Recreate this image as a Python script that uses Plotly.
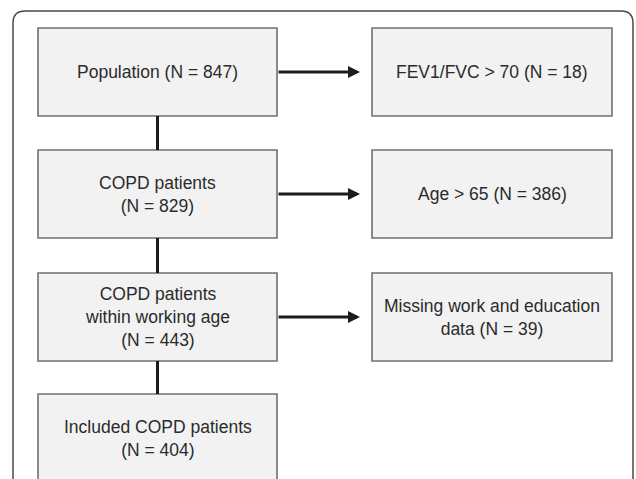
import plotly.graph_objects as go

# ---- data ----
stage_labels = ["Population", "COPD patients", "COPD patients<br>within working age", "Included COPD patients"]
stage_n = [847, 829, 443, 404]
stage_sep = [" ", "<br>", "<br>", "<br>"]
exclusion_labels = ["FEV1/FVC > 70", "Age > 65", "Missing work and education<br>data"]
exclusion_n = [18, 386, 39]
exclusion_sep = [" ", " ", " "]

# ---- layout geometry (pixels) ----
W, H = 636, 479
row_top = [28, 150, 273, 394]
box_h = 88
left_x0, left_x1 = 38, 277
right_x0, right_x1 = 372, 612
arrow_tip = 360
font = dict(family="Liberation Sans, Arial, sans-serif", size=17.5, color="#2b2b2b")
box_line = dict(color="#707070", width=1.6)
box_fill = "#f2f2f2"
conn_color = "#1c1c1c"

fig = go.Figure()
shapes = []
annotations = []

# outer rounded frame
r = 12
fx0, fy0, fx1 = 13, 11, 633
shapes.append(dict(type="path", xref="x", yref="y",
                   path=f"M {fx0},{H+5} L {fx0},{fy0+r} Q {fx0},{fy0} {fx0+r},{fy0} L {fx1-r},{fy0} Q {fx1},{fy0} {fx1},{fy0+r} L {fx1},{H+5}",
                   line=dict(color="#4a4a4a", width=1.5)))

cx_left = (left_x0 + left_x1) / 2
cx_right = (right_x0 + right_x1) / 2

for i, (lab, n, sep) in enumerate(zip(stage_labels, stage_n, stage_sep)):
    y0 = row_top[i]
    y1 = y0 + box_h
    shapes.append(dict(type="rect", xref="x", yref="y", x0=left_x0, x1=left_x1, y0=y0, y1=y1,
                       line=box_line, fillcolor=box_fill, layer="below"))
    annotations.append(dict(x=cx_left, y=(y0 + y1) / 2, xref="x", yref="y",
                            text=f"{lab}{sep}(N = {n})", showarrow=False, font=font,
                            xanchor="center", yanchor="middle", align="center"))
    if i < len(stage_labels) - 1:
        shapes.append(dict(type="line", xref="x", yref="y", x0=cx_left, x1=cx_left,
                           y0=y1, y1=row_top[i + 1], line=dict(color=conn_color, width=3)))

for i, (lab, n, sep) in enumerate(zip(exclusion_labels, exclusion_n, exclusion_sep)):
    y0 = row_top[i]
    y1 = y0 + box_h
    ym = (y0 + y1) / 2
    shapes.append(dict(type="rect", xref="x", yref="y", x0=right_x0, x1=right_x1, y0=y0, y1=y1,
                       line=box_line, fillcolor=box_fill, layer="below"))
    annotations.append(dict(x=cx_right, y=ym, xref="x", yref="y",
                            text=f"{lab}{sep}(N = {n})", showarrow=False, font=font,
                            xanchor="center", yanchor="middle", align="center"))
    annotations.append(dict(x=arrow_tip, y=ym, xref="x", yref="y", ax=left_x1, ay=ym,
                            axref="x", ayref="y", text="", showarrow=True,
                            arrowhead=2, arrowsize=0.8, arrowwidth=3, arrowcolor=conn_color,
                            standoff=0, startstandoff=0))

fig.update_layout(
    width=W, height=H,
    margin=dict(l=0, r=0, t=0, b=0),
    paper_bgcolor="white", plot_bgcolor="white",
    xaxis=dict(range=[0, W], visible=False, fixedrange=True),
    yaxis=dict(range=[H, 0], visible=False, fixedrange=True),
    shapes=shapes, annotations=annotations, showlegend=False,
)

fig.write_html("out.html", config=dict(displayModeBar=False),
               post_script="document.body.style.margin='0';document.body.style.overflow='hidden';")
